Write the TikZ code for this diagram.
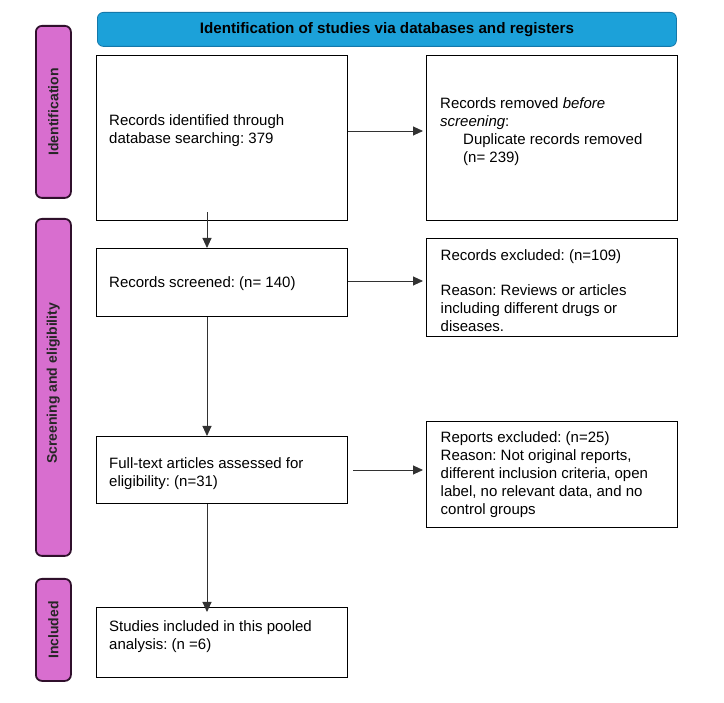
\documentclass[tikz,border=0pt]{standalone}
\usepackage{fontspec}
\setmainfont{Liberation Sans}
\usetikzlibrary{arrows.meta}
\definecolor{hdrblue}{RGB}{28,161,217}
\definecolor{hdrborder}{RGB}{20,120,170}
\definecolor{sidepink}{RGB}{216,110,207}
\definecolor{sideborder}{RGB}{48,16,44}
\definecolor{arrgray}{RGB}{50,50,50}
\tikzset{
  box/.style={draw=black, line width=1.1pt, fill=white, anchor=north west, inner sep=0pt},
  txt/.style={anchor=north west, inner sep=0pt, align=left, font=\fontsize{15}{18}\selectfont},
  side/.style={draw=sideborder, line width=1.8pt, fill=sidepink, rounded corners=6pt, anchor=north west, inner sep=0pt},
  sidetxt/.style={rotate=90, font=\bfseries\fontsize{14}{16}\selectfont, text=black!85},
  arr/.style={draw=arrgray, line width=0.9pt, -{Triangle[length=10pt,width=9pt]}}
}
\frenchspacing
\begin{document}
\begin{tikzpicture}[x=1pt,y=1pt]
\useasboundingbox[fill=white] (0,0) rectangle (724,-703);
% header
\node[draw=hdrborder, line width=0.8pt, fill=hdrblue, rounded corners=6pt, anchor=north west, minimum width=579pt, minimum height=34pt, inner sep=0pt, font=\bfseries\fontsize{15.2}{17}\selectfont] (hdr) at (97,-12) {Identification of studies via databases and registers};
% side labels
\node[side, minimum width=35pt, minimum height=172pt] (s1) at (35,-25) {};
\node[sidetxt] (s1t) at (s1.center) {Identification};
\node[side, minimum width=35pt, minimum height=337pt] (s2) at (35,-218) {};
\node[sidetxt] (s2t) at ([yshift=4pt]s2.center) {Screening and eligibility};
\node[side, minimum width=35pt, minimum height=102pt] (s3) at (35,-578) {};
\node[sidetxt] (s3t) at (s3.center) {Included};
% boxes
\node[box, minimum width=251pt, minimum height=165pt] (A) at (96,-55) {};
\node[txt] (At) at (109,-114.5) {Records identified through\\database searching: 379};
\node[box, minimum width=251pt, minimum height=165pt] (B) at (426,-55) {};
\node[txt] (Bt) at (440,-97.5) {Records removed \textit{before}\\\textit{screening}:\\\hspace*{23pt}Duplicate records removed\\\hspace*{23pt}(n= 239)};
\node[box, minimum width=251pt, minimum height=68pt] (C) at (96,-248) {};
\node[txt] (Ct) at (109,-276.5) {Records screened: (n= 140)};
\node[box, minimum width=251pt, minimum height=98pt] (D) at (426,-238) {};
\node[txt] (Dt) at (440.5,-249.5) {Records excluded: (n=109)\\[17pt]Reason: Reviews or articles\\including different drugs or\\diseases.};
\node[box, minimum width=251pt, minimum height=67pt] (E) at (96,-436) {};
\node[txt] (Et) at (109,-457) {Full-text articles assessed for\\eligibility: (n=31)};
\node[box, minimum width=251pt, minimum height=106pt] (F) at (426,-421) {};
\node[txt] (Ft) at (440.5,-431) {Reports excluded: (n=25)\\Reason: Not original reports,\\different inclusion criteria, open\\label, no relevant data, and no\\control groups};
\node[box, minimum width=251pt, minimum height=70pt] (G) at (96,-607) {};
\node[txt] (Gt) at (109,-620) {Studies included in this pooled\\analysis: (n =6)};
% connectors
\coordinate (spine) at (207,0);
\coordinate (rowA) at (0,-131);
\draw[arr] (A.east |- rowA) -- ([xshift=-3pt]B.west |- rowA);
\draw[arr] ([yshift=9pt]A.south -| spine) -- (C.north -| spine);
\draw[arr] (C.east |- 0,-281) -- ([xshift=-3pt]D.west |- 0,-281);
\draw[arr] (C.south -| spine) -- (E.north -| spine);
\draw[arr] ([xshift=5pt]E.east |- 0,-470) -- ([xshift=-3pt]F.west |- 0,-470);
\draw[arr] (E.south -| spine) -- ([yshift=-5pt]G.north -| spine);
\end{tikzpicture}
\end{document}
